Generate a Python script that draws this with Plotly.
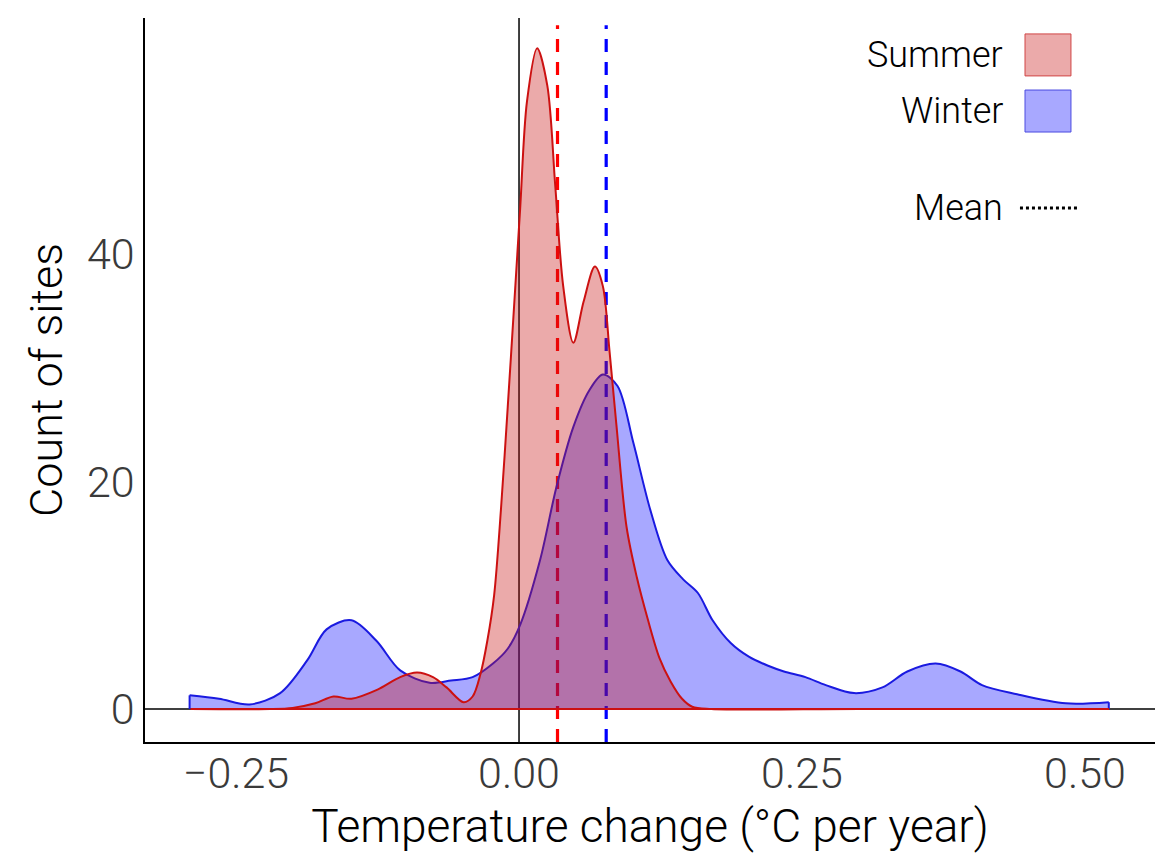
import plotly.graph_objects as go

# ---------------- data ----------------
summer_x = [-0.290, -0.220, -0.200, -0.180, -0.164, -0.148, -0.125, -0.105, -0.090,
            -0.076, -0.064, -0.049, -0.041, -0.034, -0.028, -0.022, -0.016, -0.010,
            -0.004, 0.001, 0.007, 0.016, 0.025, 0.032, 0.039, 0.048, 0.057, 0.067,
            0.074, 0.080, 0.086, 0.095, 0.104, 0.114, 0.124, 0.134, 0.144, 0.153,
            0.170, 0.300, 0.521]
summer_y = [0, 0, 0.1, 0.5, 1.1, 0.9, 1.7, 2.8, 3.2,
            2.8, 1.9, 0.6, 1.1, 3.1, 6.0, 10.0, 17.5, 26.5,
            36.0, 44.0, 53.4, 58.1, 54.8, 46.0, 37.2, 32.2, 35.8, 38.9,
            37.2, 31.4, 25.0, 16.0, 11.6, 7.8, 4.5, 2.4, 0.9, 0.2,
            0, 0, 0]

winter_x = [-0.291, -0.265, -0.238, -0.211, -0.187, -0.170, -0.148, -0.126, -0.105,
            -0.079, -0.060, -0.041, -0.023, -0.010, 0.001, 0.0186, 0.033, 0.048,
            0.062, 0.074, 0.087, 0.101, 0.116, 0.131, 0.145, 0.158, 0.171, 0.187,
            0.203, 0.220, 0.234, 0.253, 0.271, 0.296, 0.321, 0.343, 0.368, 0.390,
            0.409, 0.440, 0.483, 0.521]
winter_y = [1.2, 0.9, 0.4, 1.4, 4.3, 7.0, 7.8, 6.0, 3.4,
            2.3, 2.5, 2.8, 4.0, 5.3, 7.4, 13.1, 19.5, 24.8,
            28.0, 29.4, 28.4, 23.4, 17.5, 13.1, 11.4, 10.2, 7.8, 5.8,
            4.6, 3.8, 3.3, 2.8, 2.1, 1.4, 1.9, 3.3, 4.0, 3.3,
            2.1, 1.3, 0.5, 0.6]

summer_mean = 0.034
winter_mean = 0.077

series_names = ["Summer", "Winter"]
mean_label = "Mean"
x_ticks = [-0.25, 0.0, 0.25, 0.50]
x_tick_labels = ["\u22120.25", "0.00", "0.25", "0.50"]
y_ticks = [0, 20, 40]
y_tick_labels = ["0", "20", "40"]
x_title = "Temperature change (\u00b0C per year)"
y_title = "Count of sites"

# ---------------- styles ----------------
FONT = "Roboto"
red_line = "#CC1111"
blue_line = "#1A1AE0"
red_fill = "rgba(200,19,19,0.36)"
blue_fill = "rgba(0,0,255,0.34)"

fig = go.Figure()

# Winter (drawn first, beneath)
fig.add_trace(go.Scatter(x=winter_x, y=winter_y, mode="lines",
                         line=dict(color=blue_line, width=2, shape="spline", smoothing=0.9),
                         fill="tozeroy", fillcolor=blue_fill, showlegend=False, hoverinfo="skip"))
fig.add_trace(go.Scatter(x=[winter_x[0], winter_x[0], None, winter_x[-1], winter_x[-1]],
                         y=[0, winter_y[0], None, winter_y[-1], 0], mode="lines",
                         line=dict(color=blue_line, width=2), showlegend=False, hoverinfo="skip"))
# Summer (on top)
fig.add_trace(go.Scatter(x=summer_x, y=summer_y, mode="lines",
                         line=dict(color=red_line, width=2, shape="spline", smoothing=0.9),
                         fill="tozeroy", fillcolor=red_fill, showlegend=False, hoverinfo="skip"))
fig.add_trace(go.Scatter(x=[summer_x[0], summer_x[-1]], y=[0, 0], mode="lines",
                         line=dict(color=red_line, width=2), showlegend=False, hoverinfo="skip"))

# reference lines beneath the densities
fig.add_shape(type="line", xref="x", yref="paper", x0=0, x1=0, y0=0, y1=1,
              line=dict(color="black", width=1.5), layer="below")
fig.add_shape(type="line", xref="paper", yref="y", x0=0, x1=1, y0=0, y1=0,
              line=dict(color="black", width=1.5), layer="below")
fig.add_shape(type="line", xref="x", yref="paper", x0=summer_mean, x1=summer_mean, y0=0, y1=0.99,
              line=dict(color="#FF0000", width=3.2, dash="13px,10px"), layer="below")
fig.add_shape(type="line", xref="x", yref="paper", x0=winter_mean, x1=winter_mean, y0=0, y1=0.99,
              line=dict(color="#0000FF", width=3.2, dash="13px,10px"), layer="below")

# ---------------- custom legend (text left of keys) ----------------
leg_font = dict(family=FONT, size=36, color="black", weight=300)
sw = [(0.949, red_fill, "#D04545"), (0.8715, blue_fill, "#4A4AE0")]
for name, (yc, fc, lc) in zip(series_names, sw):
    fig.add_annotation(xref="paper", yref="paper", x=0.8515, y=yc, text=name, showarrow=False,
                       xanchor="right", yanchor="middle", font=leg_font)
    fig.add_shape(type="rect", xref="paper", yref="paper", x0=0.8713, x1=0.9168,
                  y0=yc - 0.029, y1=yc + 0.029, fillcolor=fc, line=dict(color=lc, width=1))
fig.add_annotation(xref="paper", yref="paper", x=0.8515, y=0.7376, text=mean_label, showarrow=False,
                   xanchor="right", yanchor="middle", font=leg_font)
fig.add_shape(type="line", xref="paper", yref="paper", x0=0.8663, x1=0.9238, y0=0.7376, y1=0.7376,
              line=dict(color="black", width=3, dash="dot"))

fig.update_layout(
    width=1155, height=854,
    margin=dict(l=145, r=0, t=18, b=112),
    plot_bgcolor="white", paper_bgcolor="white",
    font=dict(family=FONT, color="black", weight=300),
    showlegend=False,
    xaxis=dict(range=[-0.3304, 0.5618], tickvals=x_ticks, ticktext=x_tick_labels,
               showgrid=False, zeroline=False, showline=True, linecolor="black", linewidth=1.5,
               ticks="", ticklabelstandoff=-7,
               tickfont=dict(family=FONT, size=43, color="#3A3A3A", weight=300),
               title=dict(text=x_title, font=dict(family=FONT, size=46, color="black", weight=300), standoff=12)),
    yaxis=dict(range=[-2.9, 60.75], tickvals=y_ticks, ticktext=y_tick_labels,
               showgrid=False, zeroline=False, showline=True, linecolor="black", linewidth=1.5,
               ticks="", tickfont=dict(family=FONT, size=43, color="#3A3A3A", weight=300),
               title=dict(text=y_title, font=dict(family=FONT, size=45, color="black", weight=300), standoff=10)),
)

fig.write_html("out.html")
